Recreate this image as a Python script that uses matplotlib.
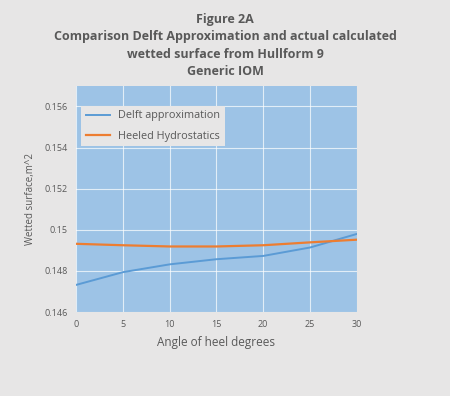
import matplotlib.pyplot as plt

angles = [0, 5, 10, 15, 20, 25, 30]
delft = [0.14732, 0.14794, 0.14832, 0.14857, 0.14873, 0.14914, 0.14980]
heeled = [0.14932, 0.14925, 0.14919, 0.14919, 0.14925, 0.14939, 0.14952]

grey = "#595959"
plt.rcParams['font.family'] = ['Open Sans', 'DejaVu Sans']

fig = plt.figure(figsize=(4.5, 3.96), dpi=100, facecolor="#E7E6E6")
ax = fig.add_axes([0.169, 0.212, 0.624, 0.571])
ax.set_facecolor("#9DC3E6")

ax.plot(angles, delft, color="#5B9BD5", lw=1.4, label="Delft approximation")
ax.plot(angles, heeled, color="#ED7D31", lw=1.6, label="Heeled Hydrostatics")

ax.set_xlim(0, 30)
ax.set_ylim(0.146, 0.157)
ax.set_xticks(range(0, 31, 5))
ax.set_yticks([0.146, 0.148, 0.15, 0.152, 0.154, 0.156])
ax.set_yticklabels(["0.146", "0.148", "0.15", "0.152", "0.154", "0.156"])
ax.grid(color="white", lw=0.8, alpha=0.7)
ax.set_axisbelow(True)
for s in ax.spines.values():
    s.set_visible(False)
ax.tick_params(length=0, labelsize=6.5, colors=grey, pad=6)

ax.set_xlabel("Angle of heel degrees", fontsize=8.5, color=grey, labelpad=5)
ax.set_ylabel("Wetted surface,m^2", fontsize=7, color=grey, labelpad=6)

fig.suptitle("Figure 2A\nComparison Delft Approximation and actual calculated\nwetted surface from Hullform 9\nGeneric IOM",
             fontsize=9, fontweight="bold", color=grey, y=0.968, linespacing=1.45)

leg = ax.legend(loc="upper left", bbox_to_anchor=(0.0, 0.935), fontsize=7.8,
                facecolor="#E7E6E6", framealpha=1, edgecolor="none",
                fancybox=False, labelcolor=grey, handlelength=2.2,
                labelspacing=0.9)

plt.savefig("out.png", dpi=100, facecolor=fig.get_facecolor())
